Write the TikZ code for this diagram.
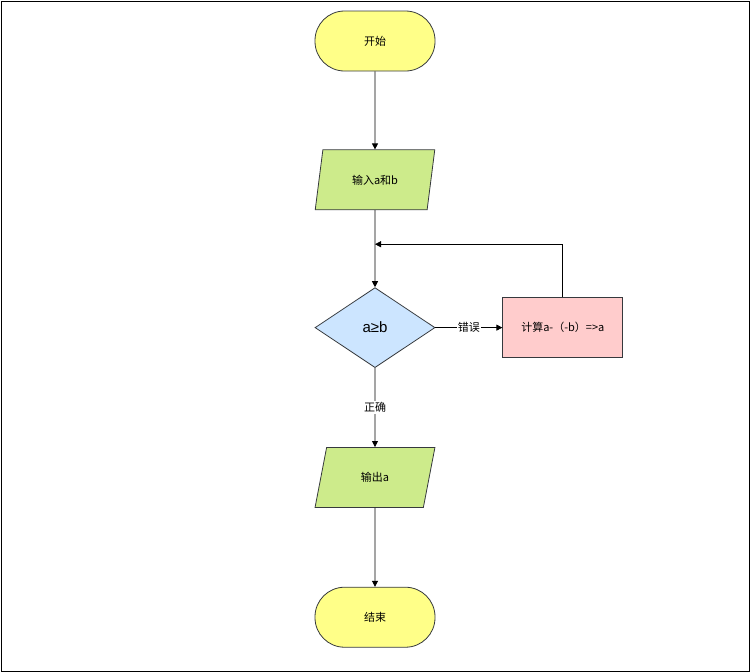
\documentclass[tikz,border=0pt]{standalone}
\usepackage{fontspec}
\setmainfont{Noto Sans CJK SC}
\newfontfamily\latinfont{Liberation Sans}
\usetikzlibrary{positioning,arrows.meta,shapes.geometric,calc}
\definecolor{termfill}{HTML}{FFFF88}
\definecolor{iofill}{HTML}{CDEB8B}
\definecolor{decfill}{HTML}{CCE5FF}
\definecolor{procfill}{HTML}{FFCCCC}
\definecolor{edgegray}{HTML}{36393D}
\begin{document}
\begin{tikzpicture}[x=1pt,y=-1pt,->,>={Triangle[length=6pt,width=6pt]},line width=0.8pt,
    node distance=78pt,
    font=\fontsize{11}{13}\selectfont,
    term/.style={draw=edgegray,fill=termfill,rectangle,rounded corners=29.5pt,minimum width=120pt,minimum height=60pt,inner sep=0pt},
    iobox/.style={draw=edgegray,fill=iofill,trapezium,trapezium left angle=71.6,trapezium right angle=108.4,trapezium stretches=true,minimum width=120pt,minimum height=60pt,inner sep=0pt},
    decbox/.style={draw=edgegray,fill=decfill,diamond,minimum width=120pt,minimum height=80pt,inner sep=0pt,font=\latinfont\fontsize{15}{17}\selectfont},
    procbox/.style={draw=edgegray,fill=procfill,rectangle,minimum width=120pt,minimum height=60pt,inner sep=0pt},
    lbl/.style={fill=white,inner sep=1pt}]
%
   \useasboundingbox (0,0) rectangle (750,672);
   \draw[-,line width=1pt] (1,1) rectangle (749,671);
   \node[term]          (N1) at (375,41) {开始};
   \node[iobox]         (N2) [below=of N1] {输入a和b};
   \node[decbox]        (N3) [below=77pt of N2] {a≥b};
   \node[procbox]       (N4) [right=67pt of N3] {计算a-（-b）=>a};
   \node[iobox]         (N5) [below=79pt of N3] {输出a};
   \node[term]          (N6) [below=79pt of N5] {结束};
   \coordinate          (J)  at ([yshift=-34pt]N2.south);
   \draw (N1) -- (N2);
   \draw (N2) -- (N3);
   \draw (N3) -- node[lbl,pos=0.5] {错误} (N4);
   \draw (N4.north) |- (J);
   \draw (N3) -- node[lbl,pos=0.5] {正确} (N5);
   \draw (N5) -- (N6);
\end{tikzpicture}
\end{document}
